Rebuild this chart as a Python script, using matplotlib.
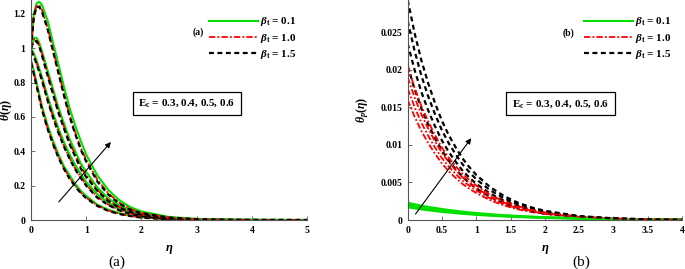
import matplotlib.pyplot as plt

plt.rcParams['font.family'] = ['Liberation Serif', 'DejaVu Serif']
plt.rcParams['font.weight'] = 'bold'
plt.rcParams['mathtext.fontset'] = 'custom'
plt.rcParams['mathtext.rm'] = 'Liberation Serif:bold'
plt.rcParams['mathtext.it'] = 'Liberation Serif:italic:bold'
plt.rcParams['mathtext.bf'] = 'Liberation Serif:bold'

# ---- panel (a): theta(eta) ----
eta_a = [0, 0.05, 0.1, 0.15, 0.2, 0.3, 0.4, 0.5, 0.6, 0.7, 0.8, 0.9, 1.0,
         1.2, 1.4, 1.6, 1.8, 2.0, 2.5, 3.0, 3.5, 4.0, 5.0]

# green: beta_t = 0.1, Ec = 0.3, 0.4, 0.5, 0.6
green_a = [
    [0.93, 0.87, 0.80, 0.73, 0.66, 0.55, 0.46, 0.38, 0.31, 0.26, 0.21, 0.17, 0.14, 0.09, 0.06, 0.04, 0.026, 0.017, 0.005, 0.0015, 0.0005, 0.0001, 0.0],
    [1.00, 0.97, 0.93, 0.88, 0.83, 0.72, 0.62, 0.53, 0.45, 0.38, 0.32, 0.27, 0.22, 0.15, 0.10, 0.065, 0.043, 0.028, 0.009, 0.003, 0.001, 0.0003, 0.0],
    [1.00, 1.06, 1.06, 1.03, 0.98, 0.87, 0.76, 0.65, 0.56, 0.47, 0.40, 0.33, 0.28, 0.19, 0.125, 0.085, 0.055, 0.036, 0.012, 0.004, 0.0015, 0.0005, 0.0],
    [1.00, 1.20, 1.26, 1.27, 1.25, 1.16, 1.03, 0.90, 0.77, 0.65, 0.55, 0.46, 0.38, 0.26, 0.175, 0.115, 0.075, 0.05, 0.018, 0.007, 0.003, 0.001, 0.0],
]
# red: beta_t = 1.0
red_a = [
    [0.92, 0.855, 0.785, 0.715, 0.645, 0.535, 0.445, 0.365, 0.30, 0.245, 0.20, 0.16, 0.13, 0.085, 0.055, 0.036, 0.024, 0.015, 0.0045, 0.0013, 0.0004, 0.0001, 0.0],
    [0.99, 0.955, 0.915, 0.865, 0.815, 0.70, 0.60, 0.51, 0.43, 0.36, 0.30, 0.25, 0.205, 0.135, 0.09, 0.058, 0.038, 0.024, 0.008, 0.0025, 0.0008, 0.0003, 0.0],
    [1.00, 1.05, 1.05, 1.015, 0.965, 0.85, 0.74, 0.63, 0.54, 0.45, 0.38, 0.31, 0.26, 0.175, 0.115, 0.075, 0.05, 0.032, 0.01, 0.0035, 0.0012, 0.0004, 0.0],
    [1.00, 1.19, 1.245, 1.25, 1.22, 1.12, 0.99, 0.86, 0.73, 0.61, 0.51, 0.42, 0.35, 0.235, 0.155, 0.10, 0.065, 0.042, 0.015, 0.005, 0.002, 0.0007, 0.0],
]
# black: beta_t = 1.5
black_a = [
    [0.915, 0.85, 0.78, 0.71, 0.64, 0.53, 0.44, 0.36, 0.295, 0.24, 0.195, 0.157, 0.127, 0.082, 0.053, 0.035, 0.023, 0.014, 0.004, 0.0012, 0.0004, 0.0001, 0.0],
    [0.985, 0.95, 0.91, 0.86, 0.81, 0.695, 0.595, 0.505, 0.425, 0.355, 0.295, 0.245, 0.20, 0.13, 0.087, 0.056, 0.036, 0.023, 0.007, 0.002, 0.0007, 0.0002, 0.0],
    [1.00, 1.04, 1.04, 1.01, 0.955, 0.84, 0.73, 0.62, 0.53, 0.44, 0.37, 0.30, 0.25, 0.17, 0.11, 0.072, 0.047, 0.03, 0.01, 0.003, 0.001, 0.0003, 0.0],
    [1.00, 1.18, 1.24, 1.24, 1.21, 1.11, 0.98, 0.85, 0.72, 0.60, 0.50, 0.41, 0.34, 0.225, 0.148, 0.095, 0.06, 0.04, 0.014, 0.005, 0.002, 0.0006, 0.0],
]

# ---- panel (b): theta_p(eta) ----
eta_b = [0, 0.1, 0.2, 0.3, 0.4, 0.5, 0.6, 0.7, 0.8, 0.9, 1.0, 1.2, 1.4, 1.6,
         1.8, 2.0, 2.5, 3.0, 3.5, 4.0]

green_b = [
    [0.0017, 0.00155, 0.00142, 0.0013, 0.00119, 0.00108, 0.00099, 0.00091, 0.00083, 0.00076, 0.00069, 0.00058, 0.00048, 0.0004, 0.00034, 0.00028, 0.00018, 0.00011, 0.00007, 0.00005],
    [0.0019, 0.00174, 0.00159, 0.00145, 0.00133, 0.00121, 0.00111, 0.00101, 0.00093, 0.00085, 0.00077, 0.00065, 0.00054, 0.00045, 0.00038, 0.00031, 0.0002, 0.00013, 0.00008, 0.00005],
    [0.0021, 0.00192, 0.00175, 0.0016, 0.00147, 0.00134, 0.00122, 0.00112, 0.00102, 0.00093, 0.00085, 0.00071, 0.0006, 0.0005, 0.00042, 0.00035, 0.00022, 0.00014, 0.00009, 0.00006],
    [0.0023, 0.0021, 0.00192, 0.00175, 0.00161, 0.00147, 0.00134, 0.00123, 0.00112, 0.00102, 0.00094, 0.00078, 0.00065, 0.00055, 0.00046, 0.00038, 0.00024, 0.00015, 0.0001, 0.00006],
]
red_b = [
    [0.016, 0.01376, 0.01184, 0.01024, 0.0088, 0.00752, 0.00648, 0.0056, 0.0048, 0.00416, 0.0036, 0.00264, 0.00195, 0.00144, 0.00107, 0.0008, 0.00035, 0.00016, 0.00007, 0.00003],
    [0.0175, 0.01505, 0.01295, 0.0112, 0.00963, 0.00823, 0.00709, 0.00613, 0.00525, 0.00455, 0.00394, 0.00289, 0.00214, 0.00158, 0.00117, 0.00088, 0.00039, 0.00018, 0.00008, 0.00004],
    [0.019, 0.01634, 0.01406, 0.01216, 0.01045, 0.00893, 0.0077, 0.00665, 0.0057, 0.00494, 0.00428, 0.00314, 0.00232, 0.00171, 0.00127, 0.00095, 0.00042, 0.00019, 0.00009, 0.00004],
    [0.0205, 0.01763, 0.01517, 0.01312, 0.01128, 0.00964, 0.0083, 0.00718, 0.00615, 0.00533, 0.00461, 0.00338, 0.0025, 0.00185, 0.00137, 0.00103, 0.00045, 0.00021, 0.00009, 0.00004],
]
black_b = [
    [0.0205, 0.01743, 0.01486, 0.01271, 0.01087, 0.00923, 0.00789, 0.00677, 0.00574, 0.00492, 0.0042, 0.00308, 0.00226, 0.00164, 0.00119, 0.00086, 0.00037, 0.00016, 0.00007, 0.00003],
    [0.0235, 0.02, 0.01704, 0.01457, 0.01246, 0.01058, 0.00905, 0.00776, 0.00658, 0.00564, 0.00482, 0.00353, 0.00259, 0.00188, 0.00136, 0.00099, 0.00042, 0.00019, 0.00008, 0.00004],
    [0.0265, 0.02253, 0.01921, 0.01643, 0.01405, 0.01193, 0.0102, 0.00875, 0.00742, 0.00636, 0.00543, 0.00398, 0.00292, 0.00212, 0.00154, 0.00111, 0.00048, 0.00021, 0.00009, 0.00004],
    [0.0293, 0.0249, 0.02124, 0.01817, 0.01553, 0.01319, 0.01128, 0.00967, 0.0082, 0.00703, 0.00601, 0.0044, 0.00322, 0.00234, 0.0017, 0.00123, 0.00053, 0.00023, 0.0001, 0.00004],
]

labels = [r'$\beta_{\mathrm{t}}$ = 0.1', r'$\beta_{\mathrm{t}}$ = 1.0', r'$\beta_{\mathrm{t}}$ = 1.5']
ec_text = r'E$_{\mathrm{c}}$ = 0.3, 0.4, 0.5, 0.6'

green = '#00e000'
red_ls = (0, (3.5, 1.2, 1, 1.2))
black_ls = (0, (2.2, 1.6))

fig = plt.figure(figsize=(6.85, 2.69), dpi=100)
ax1 = fig.add_axes([0.0453, 0.182, 0.4030, 0.818])
ax2 = fig.add_axes([0.5952, 0.182, 0.4003, 0.818])


def draw(ax, eta, g, r, k):
    for i in range(4):
        ax.plot(eta, g[i], color=green, lw=1.5, label=labels[0] if i == 0 else None)
        ax.plot(eta, r[i], color='red', lw=1.3, ls=red_ls, label=labels[1] if i == 0 else None)
        ax.plot(eta, k[i], color='black', lw=1.6, ls=black_ls, label=labels[2] if i == 0 else None)
    for s in ['top', 'right']:
        ax.spines[s].set_visible(False)
    for s in ['left', 'bottom']:
        ax.spines[s].set_color('#555555')
        ax.spines[s].set_linewidth(0.8)
    ax.tick_params(direction='in', length=3, width=0.6, labelsize=7, pad=4, color='#555555')
    ax.set_xlabel(r'$\eta$', fontsize=9)
    ax.xaxis.set_label_coords(0.5, -0.105)
    leg = ax.legend(loc='upper right', frameon=False, fontsize=8, handlelength=4.4,
                    handletextpad=0.2, labelspacing=0.3, borderaxespad=0.3,
                    bbox_to_anchor=(0.99, 0.965))
    return leg


draw(ax1, eta_a, green_a, red_a, black_a)
ax1.set_xlim(0, 5)
ax1.set_ylim(0, 1.28)
ax1.set_xticks([0, 1, 2, 3, 4, 5])
ax1.set_yticks([0, 0.2, 0.4, 0.6, 0.8, 1.0, 1.2])
ax1.set_yticklabels(['0', '0.2', '0.4', '0.6', '0.8', '1', '1.2'], fontweight='bold')
ax1.set_xticklabels(['0', '1', '2', '3', '4', '5'], fontweight='bold')
ax1.set_ylabel(r'$\theta(\eta)$', fontsize=8.5)
ax1.yaxis.set_label_coords(-0.06, 0.5)
ax1.text(3.03, 1.09, '(a)', fontsize=7, fontweight='bold', ha='center', va='center')
ax1.text(2.82, 0.68, ec_text, fontsize=8, fontweight='bold', ha='center', va='center',
         bbox=dict(boxstyle='square,pad=0.5', fc='white', ec='black', lw=0.9))
ax1.annotate('', xy=(1.48, 0.466), xytext=(0.47, 0.093),
             arrowprops=dict(arrowstyle='-|>', color='black', lw=0.8, mutation_scale=8))

draw(ax2, eta_b, green_b, red_b, black_b)
ax2.set_xlim(0, 4)
ax2.set_ylim(0, 0.0293)
ax2.set_xticks([0, 0.5, 1, 1.5, 2, 2.5, 3, 3.5, 4])
ax2.set_xticklabels(['0', '0.5', '1', '1.5', '2', '2.5', '3', '3.5', '4'], fontweight='bold')
ax2.set_yticks([0, 0.005, 0.01, 0.015, 0.02, 0.025])
ax2.set_yticklabels(['0', '0.005', '0.01', '0.015', '0.02', '0.025'], fontweight='bold')
ax2.set_ylabel(r'$\theta_p(\eta)$', fontsize=8.5)
ax2.yaxis.set_label_coords(-0.134, 0.5)
ax2.text(2.35, 0.0249, '(b)', fontsize=7, fontweight='bold', ha='center', va='center')
ax2.text(2.23, 0.0155, ec_text, fontsize=8, fontweight='bold', ha='center', va='center',
         bbox=dict(boxstyle='square,pad=0.5', fc='white', ec='black', lw=0.9))
ax2.annotate('', xy=(0.95, 0.0112), xytext=(0.09, 0.0005),
             arrowprops=dict(arrowstyle='-|>', color='black', lw=0.8, mutation_scale=8))

fig.text(117 / 685, 1 - 262 / 269, '(a)', fontsize=11, fontweight='normal', ha='center', va='center')
fig.text(581 / 685, 1 - 262 / 269, '(b)', fontsize=11, fontweight='normal', ha='center', va='center')

fig.savefig('out.png', dpi=100)
